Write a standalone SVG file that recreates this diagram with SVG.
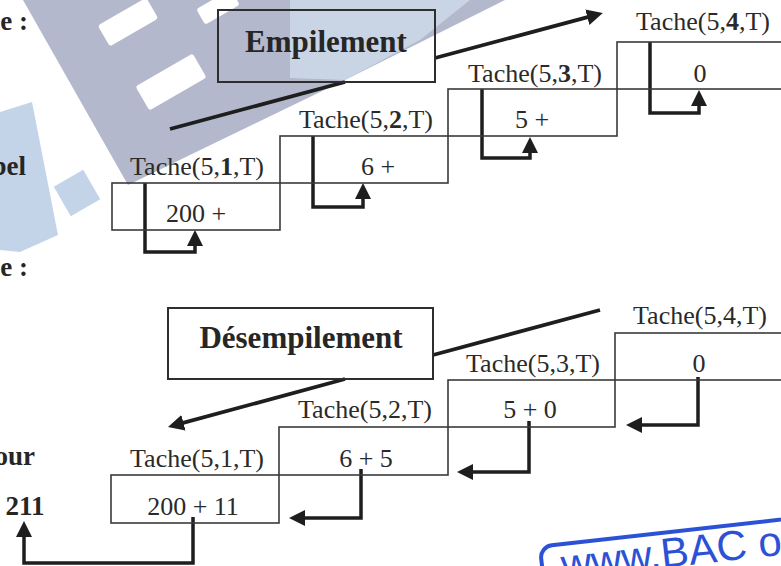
<svg xmlns="http://www.w3.org/2000/svg" width="781" height="566" viewBox="0 0 781 566">
<style>
.lbl{font-family:"Liberation Serif","Times New Roman",serif;font-size:26px;fill:#2a2a2a;text-anchor:middle}
.ttl{font-family:"Liberation Serif","Times New Roman",serif;font-size:31px;font-weight:bold;fill:#262626;text-anchor:middle}
.mg{font-family:"Liberation Serif","Times New Roman",serif;font-size:27px;font-weight:bold;fill:#262626}
.box{fill:none;stroke:#3a3a3a;stroke-width:1.6}
.tbox{fill:none;stroke:#2e2e2e;stroke-width:2}
.conn{fill:none;stroke:#1e1e1e;stroke-width:3.5}
.diag{fill:none;stroke:#1e1e1e;stroke-width:3.8}
.wm{fill:#b3b8cc}
.wh{fill:#ffffff}
.wb{fill:#b8cde4}
</style>
<defs>
<marker id="ah" markerUnits="userSpaceOnUse" markerWidth="16" markerHeight="16" viewBox="0 0 16 16" refX="10" refY="8" orient="auto">
<path d="M0,0 L16,8 L0,16 z" fill="#1e1e1e"/>
</marker>
</defs>
<rect width="781" height="566" fill="#ffffff"/>
<g id="watermark">
<polygon class="wm" points="23,0 505,0 345,80 128,185"/>
<polygon class="wb" points="0,112 32,102 58,235 20,252 0,250" opacity="0.85"/>
<rect class="wb" x="60" y="176" width="34" height="34" transform="rotate(-30 77 193)" opacity="0.85"/>
<rect class="wh" x="100" y="10" width="56" height="24" rx="3" transform="rotate(-30 128 22)"/>
<rect class="wh" x="138" y="68" width="66" height="28" rx="3" transform="rotate(-30 171 82)"/>
<rect class="wh" x="198" y="-2" width="40" height="18" rx="3" transform="rotate(-30 218 7)"/>
<polygon points="290,0 470,0 420,40 345,80 290,78" fill="#d3e0ef" opacity="0.7"/>
</g>
<g id="stamp" transform="rotate(-6.4 663 568)">
<rect x="543" y="533" width="300" height="70" rx="12" fill="none" stroke="#2b52d6" stroke-width="4"/>
<text x="562" y="568" font-family="'Liberation Sans',Arial,sans-serif" font-size="42" fill="#2b52d6">www.BAC o</text>
</g>
<g id="margin">
<text class="mg" x="28" y="30" text-anchor="end">e :</text>
<text class="mg" x="26" y="175" text-anchor="end">bel</text>
<text class="mg" x="28" y="276" text-anchor="end">e :</text>
<text class="mg" x="35" y="465" text-anchor="end">our</text>
<text class="mg" x="25" y="515" text-anchor="middle">211</text>
</g>
<g id="connectors">
<path class="diag" d="M170,129 L345,82"/>
<path class="diag" d="M435,58 L597,14.6" marker-end="url(#ah)"/>
<path class="diag" d="M600,310 L433,355"/>
<path class="diag" d="M345,379 L173.8,425.4" marker-end="url(#ah)"/>
<path class="conn" d="M145,183 V252 H195 V236" marker-end="url(#ah)"/>
<path class="conn" d="M313,136 V207 H363 V189" marker-end="url(#ah)"/>
<path class="conn" d="M482,89 V158 H530 V143" marker-end="url(#ah)"/>
<path class="conn" d="M650,42 V113 H699 V96" marker-end="url(#ah)"/>
<path class="conn" d="M698,377 V425 H632" marker-end="url(#ah)"/>
<path class="conn" d="M529,421 V472 H463" marker-end="url(#ah)"/>
<path class="conn" d="M361,469 V518 H295" marker-end="url(#ah)"/>
<path class="conn" d="M193,517 V563 H24 V527" marker-end="url(#ah)"/>
</g>
<g id="node-empilement">
<rect class="tbox" x="218" y="10" width="217" height="72"/>
<text class="ttl" x="326" y="52">Empilement</text>
</g>
<g id="node-desempilement">
<rect class="tbox" x="168" y="308" width="265" height="71"/>
<text class="ttl" x="301" y="348">Désempilement</text>
</g>
<g id="node-e1">
<rect class="box" x="112" y="183" width="168" height="47"/>
<text class="lbl" x="197" y="175">Tache(5,<tspan font-weight="bold">1</tspan>,T)</text>
<text class="lbl" x="196" y="222">200 +</text>
</g>
<g id="node-e2">
<rect class="box" x="280" y="136" width="168" height="47"/>
<text class="lbl" x="366" y="128">Tache(5,<tspan font-weight="bold">2</tspan>,T)</text>
<text class="lbl" x="378" y="175">6 +</text>
</g>
<g id="node-e3">
<rect class="box" x="448" y="89" width="169" height="47"/>
<text class="lbl" x="535" y="82">Tache(5,<tspan font-weight="bold">3</tspan>,T)</text>
<text class="lbl" x="532" y="128">5 +</text>
</g>
<g id="node-e4">
<rect class="box" x="617" y="42" width="180" height="47"/>
<text class="lbl" x="703" y="30">Tache(5,<tspan font-weight="bold">4</tspan>,T)</text>
<text class="lbl" x="700" y="82">0</text>
</g>
<g id="node-d1">
<rect class="box" x="111" y="475" width="168" height="48"/>
<text class="lbl" x="197" y="467">Tache(5,1,T)</text>
<text class="lbl" x="193" y="515">200 + 11</text>
</g>
<g id="node-d2">
<rect class="box" x="279" y="427" width="169" height="48"/>
<text class="lbl" x="365" y="418">Tache(5,2,T)</text>
<text class="lbl" x="366" y="467">6 + 5</text>
</g>
<g id="node-d3">
<rect class="box" x="448" y="380" width="167" height="47"/>
<text class="lbl" x="533" y="372">Tache(5,3,T)</text>
<text class="lbl" x="530" y="418">5 + 0</text>
</g>
<g id="node-d4">
<rect class="box" x="615" y="333" width="180" height="47"/>
<text class="lbl" x="700" y="324">Tache(5,4,T)</text>
<text class="lbl" x="699" y="372">0</text>
</g>
</svg>
